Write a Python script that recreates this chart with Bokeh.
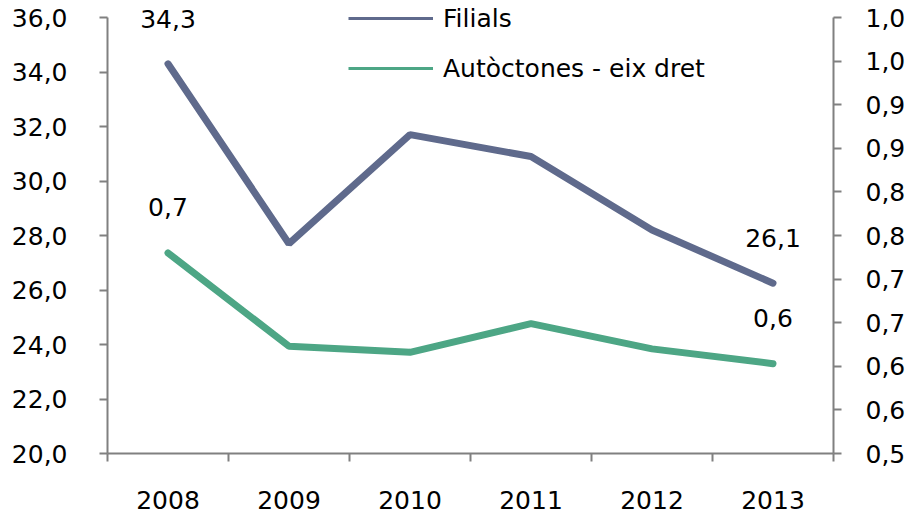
from bokeh.plotting import figure
from bokeh.models import (Range1d, LinearAxis, FixedTicker, CustomJSTickFormatter,
                          Legend, LegendItem)
from bokeh.core.properties import value
from bokeh.embed import file_html
from bokeh.resources import INLINE

# ---- data ----
years = ["2008", "2009", "2010", "2011", "2012", "2013"]
filials = [34.3, 27.7, 31.7, 30.9, 28.2, 26.25]
autoctones = [0.730, 0.623, 0.616, 0.649, 0.620, 0.603]
filials_labels = ["34,3", "26,1"]
autoctones_labels = ["0,7", "0,6"]
label_idx = [0, 5]

left_ticks = [20, 22, 24, 26, 28, 30, 32, 34, 36]
left_tick_labels = ["20,0", "22,0", "24,0", "26,0", "28,0", "30,0", "32,0", "34,0", "36,0"]
right_ticks = [0.50, 0.55, 0.60, 0.65, 0.70, 0.75, 0.80, 0.85, 0.90, 0.95, 1.00]
right_tick_labels = ["0,5", "0,6", "0,6", "0,7", "0,7", "0,8", "0,8", "0,9", "0,9", "1,0", "1,0"]

FONT = "DejaVu Sans"
FS = "25px"
AX_COL = "#808080"
C_FIL = "#5F6A8C"
C_AUT = "#4DA685"

# layout: axis spans 436 px; plot frame extends 17 px above the top tick
AXIS_PX = 436.0
TOP_PAD_PX = 17.0
l_min, l_max = left_ticks[0], left_ticks[-1]
r_min, r_max = right_ticks[0], right_ticks[-1]
l_top = l_max + TOP_PAD_PX * (l_max - l_min) / AXIS_PX
r_top = r_max + TOP_PAD_PX * (r_max - r_min) / AXIS_PX

xs = [i + 0.5 for i in range(len(years))]
x_bounds = [i for i in range(len(years) + 1)]

p = figure(width=914, height=519, output_backend="svg", toolbar_location=None,
           x_range=Range1d(0, len(years)), y_range=Range1d(l_min, l_top),
           min_border_left=107, min_border_right=81, min_border_top=0, min_border_bottom=66)
p.extra_y_ranges = {"right": Range1d(r_min, r_top)}
p.xgrid.visible = False
p.ygrid.visible = False
p.outline_line_color = None
p.background_fill_color = "white"
p.border_fill_color = "white"


def fmt(tvals, tlabels):
    return CustomJSTickFormatter(args=dict(tvals=tvals, tlabels=tlabels), code="""
        for (let i = 0; i < tvals.length; i++) {
            if (Math.abs(tvals[i] - tick) < 1e-6) { return tlabels[i]; }
        }
        return '';
    """)


def style_axis(ax):
    ax.axis_line_color = AX_COL
    ax.axis_line_width = 2
    ax.major_tick_line_color = AX_COL
    ax.major_tick_line_width = 2
    ax.minor_tick_line_color = AX_COL
    ax.minor_tick_line_width = 2
    ax.major_label_text_font = FONT
    ax.major_label_text_font_size = FS
    ax.major_label_text_color = "#000000"


# x axis
xax = p.xaxis[0]
xax.ticker = FixedTicker(ticks=xs, minor_ticks=x_bounds)
xax.formatter = fmt(xs, years)
style_axis(xax)
xax.major_tick_out = 0
xax.major_tick_in = 0
xax.minor_tick_out = 8
xax.minor_tick_in = 0
xax.major_label_standoff = 29

# left axis
yax = p.yaxis[0]
yax.ticker = FixedTicker(ticks=left_ticks)
yax.formatter = fmt(left_ticks, left_tick_labels)
yax.bounds = (l_min, l_max)
style_axis(yax)
yax.major_tick_out = 8
yax.major_tick_in = 0
yax.minor_tick_out = 0
yax.minor_tick_in = 0
yax.major_label_standoff = 32

# right axis
rax = LinearAxis(y_range_name="right", ticker=FixedTicker(ticks=right_ticks),
                 formatter=fmt(right_ticks, right_tick_labels), bounds=(r_min, r_max))
style_axis(rax)
rax.major_tick_out = 8
rax.major_tick_in = 0
rax.minor_tick_out = 0
rax.minor_tick_in = 0
rax.major_label_standoff = 24
p.add_layout(rax, "right")

# lines
p.line(xs, filials, line_color=C_FIL, line_width=7, line_cap="round")
p.line(xs, autoctones, line_color=C_AUT, line_width=7, line_cap="round", y_range_name="right")

# data labels
p.text(x=[xs[i] for i in label_idx], y=[filials[i] for i in label_idx], text=filials_labels,
       text_font=value(FONT), text_font_size=FS, text_color="#000000",
       text_align="center", text_baseline="middle", y_offset=-45)
p.text(x=[xs[i] for i in label_idx], y=[autoctones[i] for i in label_idx], text=autoctones_labels,
       text_font=value(FONT), text_font_size=FS, text_color="#000000",
       text_align="center", text_baseline="middle", y_offset=-46, y_range_name="right")

# legend (hidden thin-line renderers, used only for the legend swatches)
lf = p.line(xs, filials, line_color=C_FIL, line_width=3, visible=False)
la = p.line(xs, autoctones, line_color=C_AUT, line_width=3, visible=False, y_range_name="right")
legend = Legend(items=[LegendItem(label="Filials", renderers=[lf]),
                       LegendItem(label="Autòctones - eix dret", renderers=[la])],
                location=(241, 370), orientation="vertical",
                glyph_width=85, glyph_height=30, label_height=30, label_standoff=10,
                spacing=20, padding=0, margin=0,
                label_text_font=FONT, label_text_font_size=FS, label_text_color="#000000",
                background_fill_alpha=0, border_line_alpha=0)
p.add_layout(legend, "center")

open("out.html", "w").write(file_html(p, INLINE))
